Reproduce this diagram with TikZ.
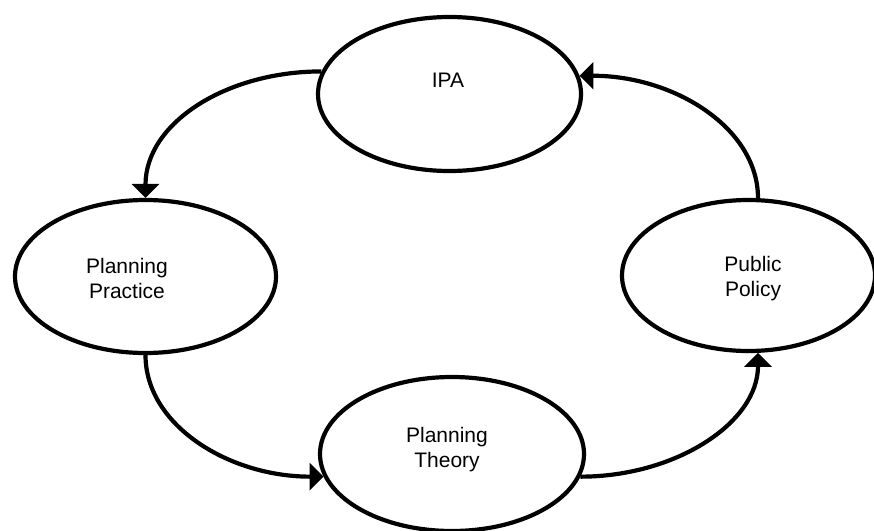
\documentclass[tikz,border=0pt]{standalone}
\usepackage{fontspec}
\setmainfont{Liberation Sans}
\usetikzlibrary{shapes.geometric,arrows.meta}
\begin{document}
\begin{tikzpicture}[x=1pt,y=-1pt,
  ell/.style={ellipse, draw=black, line width=4.2pt, inner sep=0pt},
  lbl/.style={font=\fontsize{21}{24.5}\selectfont, align=center, anchor=base, inner sep=0pt},
  conn/.style={line width=4.2pt, -{Triangle[length=14pt,width=27pt]}}]
\useasboundingbox (0,0) rectangle (874,530);
\clip (0,0) rectangle (874,530);
\node[ell, minimum width=263pt, minimum height=154pt] (ipa) at (449.5,94) {};
\node[ell, minimum width=261pt, minimum height=153pt] (prac) at (145.5,276.5) {};
\node[ell, minimum width=264pt, minimum height=154pt] (theo) at (452,454) {};
\node[ell, minimum width=253pt, minimum height=151pt] (poli) at (748.5,275.5) {};
\node[lbl] (ipat) at (448,87) {IPA};
\node[lbl] (pract) at (127,298) {Planning\\Practice};
\node[lbl] (theot) at (447,467) {Planning\\Theory};
\node[lbl] (polit) at (753,296) {Public\\Policy};
\draw[conn] (ipa.170) .. controls +(180:95) and +(-90:75) .. (prac.north);
\draw[conn] (prac.south) .. controls +(90:70) and +(180:95) .. (theo.190);
\draw[conn] (theo.-10) .. controls +(0:95) and +(90:70) .. (poli.-83);
\draw[conn] (poli.83) .. controls +(-90:70) and +(0:95) .. (ipa.8);
\end{tikzpicture}
\end{document}
